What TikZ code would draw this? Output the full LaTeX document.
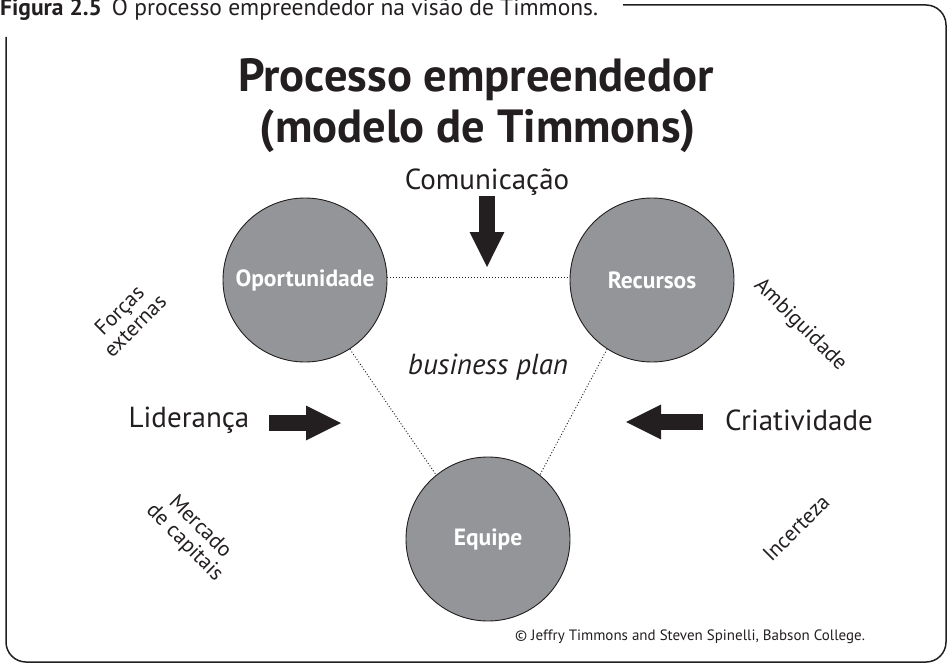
\documentclass[tikz,border=0pt]{standalone}
\usepackage{fontspec}
\setmainfont{PT Sans}
\usepackage{tikz}
\usetikzlibrary{positioning, arrows.meta}
\definecolor{ink}{HTML}{231F20}
\definecolor{discgray}{HTML}{939598}

\begin{document}
\begin{tikzpicture}[x=1pt,y=-1pt,
  disc/.style={circle,draw=ink,line width=0.9pt,fill=discgray,minimum size=164pt,inner sep=0pt,text=white,font=\fontsize{23.5}{26}\selectfont\bfseries},
  link/.style={ink,line width=0.9pt,dash pattern=on 1pt off 2pt},
  fatarrow/.style={ink,line width=16pt,-{Triangle[length=36pt,width=32pt]}},
  force/.style={text=ink,inner sep=0pt,font=\fontsize{29}{32}\selectfont},
  side/.style={text=ink,inner sep=0pt,align=center,font=\fontsize{21.5}{22}\selectfont}]
\useasboundingbox (0,0) rectangle (949,663);
\draw[ink,line width=1.5pt,rounded corners=20pt] (623,5) -- (946,5) -- (946,662) -- (6,662) -- (6,37);
\node[anchor=base west,inner sep=0pt,text=ink,font=\fontsize{23.5}{26}\selectfont] (caption) at (0,16) {\textbf{Figura 2.5}\hspace{10pt}O processo empreendedor na visão de Timmons.};
\node[anchor=base,inner sep=0pt,text=ink,font=\fontsize{46.5}{50}\selectfont\bfseries] (title1) at (476,92) {Processo empreendedor};
\node[anchor=base,inner sep=0pt,text=ink,font=\fontsize{46.5}{50}\selectfont\bfseries] (title2) at (478,143) {(modelo de Timmons)};

\node[disc] (opp) at (305,280) {Oportunidade};
\node[disc] (rec) at (652,280) {Recursos};
\node[disc] (eqp) at (488,539) {Equipe};
\draw[link] (opp.2) -- (rec.178);
\draw[link] (opp.-57) -- (eqp.129);
\draw[link] (rec.-123) -- (eqp.51);

\node[force,anchor=base] (comm) at (487,189) {Comunicação};
\coordinate (commtip) at (487,268);
\draw[fatarrow] (comm.south |- 0,196) -- (commtip);
\node[force,anchor=base] (lid) at (189,427) {Liderança};
\coordinate (lidtip) at (342,423);
\draw[fatarrow] (269,423) -- (lidtip);
\node[force,anchor=base] (cri) at (799,430) {Criatividade};
\coordinate (critip) at (625,422);
\draw[fatarrow] (703,422) -- (critip);

\node[text=ink,font=\fontsize{29}{32}\selectfont\itshape] (plan) at (488,367) {business plan};

\node[side,rotate=45] (ext) at (127,318) {Forças\\externas};
\node[side,rotate=-45] (amb) at (800,325) {Ambiguidade};
\node[side,rotate=-45] (cap) at (192,535) {Mercado\\de capitais};
\node[side,rotate=45] (inc) at (796,528) {Incerteza};

\node[anchor=base,inner sep=0pt,text=ink,font=\fontsize{15}{18}\selectfont] (copy) at (690,640) {© Jeffry Timmons and Steven Spinelli, Babson College.};
\end{tikzpicture}
\end{document}
